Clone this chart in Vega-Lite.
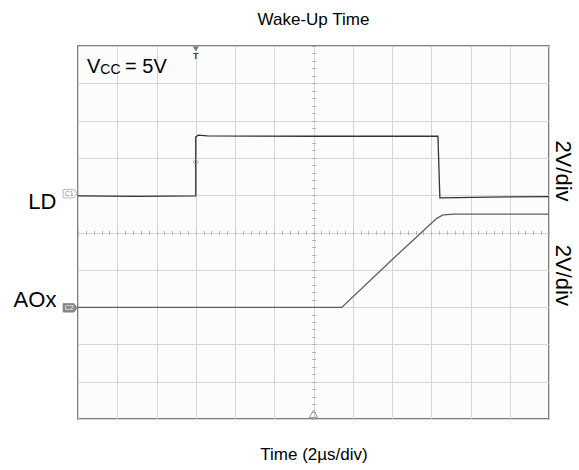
{
  "$schema": "https://vega.github.io/schema/vega-lite/v6.json",
  "width": 471,
  "height": 373,
  "autosize": {"type": "none"},
  "padding": {"left": 78, "top": 46, "right": 30, "bottom": 51},
  "background": "white",
  "config": {
    "font": "Liberation Sans",
    "view": {"stroke": "#555555", "strokeWidth": 1.5, "fill": "#fcfcfc"}
  },
  "title": {
    "text": "Wake-Up Time",
    "fontSize": 17,
    "fontWeight": "normal",
    "color": "#000000",
    "font": "Liberation Sans",
    "anchor": "middle",
    "offset": 17
  },
  "datasets": {
    "traces": [
      {"series": "LD", "i": 1, "t": 0.0, "v": 5.98},
      {"series": "LD", "i": 2, "t": 1.5, "v": 5.97},
      {"series": "LD", "i": 3, "t": 3.0, "v": 5.98},
      {"series": "LD", "i": 4, "t": 3.0, "v": 7.56},
      {"series": "LD", "i": 5, "t": 3.06, "v": 7.61},
      {"series": "LD", "i": 6, "t": 3.3, "v": 7.59},
      {"series": "LD", "i": 7, "t": 6.0, "v": 7.58},
      {"series": "LD", "i": 8, "t": 9.17, "v": 7.58},
      {"series": "LD", "i": 9, "t": 9.22, "v": 5.93},
      {"series": "LD", "i": 10, "t": 10.5, "v": 5.95},
      {"series": "LD", "i": 11, "t": 12.0, "v": 5.96},
      {"series": "AOx", "i": 1, "t": 0.0, "v": 2.99},
      {"series": "AOx", "i": 2, "t": 3.0, "v": 2.99},
      {"series": "AOx", "i": 3, "t": 6.72, "v": 2.99},
      {"series": "AOx", "i": 4, "t": 8.0, "v": 4.27},
      {"series": "AOx", "i": 5, "t": 9.14, "v": 5.38},
      {"series": "AOx", "i": 6, "t": 9.3, "v": 5.47},
      {"series": "AOx", "i": 7, "t": 9.6, "v": 5.49},
      {"series": "AOx", "i": 8, "t": 12.0, "v": 5.49}
    ],
    "marks": [
      {"kind": "trigger", "t": 3.0, "v": 6.89},
      {"kind": "trigtop", "t": 3.0, "v": 9.92},
      {"kind": "center", "t": 6.0, "v": 0.14},
      {"kind": "c1", "t": -0.2, "v": 6.04},
      {"kind": "c2", "t": -0.2, "v": 2.98}
    ],
    "labels": [
      {"kind": "side", "t": -0.55, "v": 5.82, "label": "LD"},
      {"kind": "side", "t": -0.55, "v": 3.18, "label": "AOx"},
      {"kind": "div", "t": 12.36, "v": 6.65, "label": "2V/div"},
      {"kind": "div", "t": 12.36, "v": 3.85, "label": "2V/div"},
      {"kind": "big", "t": 0.23, "v": 9.27, "label": "V"},
      {"kind": "sub", "t": 0.57, "v": 9.24, "label": "CC"},
      {"kind": "big", "t": 1.2, "v": 9.27, "label": "= 5V"},
      {"kind": "T", "t": 3.0, "v": 9.72, "label": "T"},
      {"kind": "c1", "t": -0.2, "v": 6.04, "label": "C1"},
      {"kind": "c2", "t": -0.2, "v": 2.98, "label": "C2"}
    ]
  },
  "resolve": {"axis": {"x": "independent", "y": "independent"}},
  "layer": [
    {
      "data": {"name": "traces"},
      "mark": {"type": "line", "strokeWidth": 1.3, "interpolate": "linear"},
      "encoding": {
        "x": {
          "field": "t", "type": "quantitative",
          "scale": {"domain": [0, 12], "nice": false, "zero": false},
          "axis": {
            "orient": "bottom",
            "values": [0, 1, 2, 3, 4, 5, 6, 7, 8, 9, 10, 11, 12],
            "grid": true, "gridColor": "#d6d6d6", "gridWidth": 1,
            "labels": false, "ticks": false, "domain": false,
            "title": "Time (2µs/div)",
            "titleFont": "Liberation Sans", "titleFontSize": 17,
            "titleFontWeight": "normal", "titleColor": "#000000",
            "titlePadding": 27
          }
        },
        "y": {
          "field": "v", "type": "quantitative",
          "scale": {"domain": [0, 10], "nice": false, "zero": false},
          "axis": {
            "orient": "left",
            "values": [0, 1, 2, 3, 4, 5, 6, 7, 8, 9, 10],
            "grid": true, "gridColor": "#d6d6d6", "gridWidth": 1,
            "labels": false, "ticks": false, "domain": false, "title": null
          }
        },
        "color": {
          "field": "series", "type": "nominal",
          "scale": {"domain": ["LD", "AOx"], "range": ["#333333", "#5e5e5e"]},
          "legend": null
        },
        "order": {"field": "i", "type": "quantitative"}
      }
    },
    {
      "data": {"name": "marks"},
      "transform": [{"filter": "datum.kind === 'trigger'"}],
      "mark": {"type": "point", "shape": "diamond", "filled": false, "stroke": "#8a8a8a", "strokeWidth": 1, "size": 28},
      "encoding": {
        "x": {
          "field": "t", "type": "quantitative",
          "scale": {"domain": [0, 12], "nice": false, "zero": false},
          "axis": {
            "orient": "top", "offset": -188.5, "tickCount": 60,
            "ticks": true, "tickSize": 4, "tickColor": "#b5b5b5", "tickWidth": 1,
            "labels": false, "domain": false, "grid": false, "title": null
          }
        },
        "y": {
          "field": "v", "type": "quantitative",
          "scale": {"domain": [0, 10], "nice": false, "zero": false},
          "axis": {
            "orient": "right", "offset": -237.5, "tickCount": 50,
            "ticks": true, "tickSize": 4, "tickColor": "#b5b5b5", "tickWidth": 1,
            "labels": false, "domain": false, "grid": false, "title": null
          }
        }
      }
    },
    {
      "data": {"name": "marks"},
      "transform": [{"filter": "datum.kind === 'trigtop'"}],
      "mark": {"type": "point", "shape": "triangle-down", "filled": true, "color": "#444444", "size": 36},
      "encoding": {
        "x": {"field": "t", "type": "quantitative", "axis": null},
        "y": {"field": "v", "type": "quantitative", "axis": null}
      }
    },
    {
      "data": {"name": "marks"},
      "transform": [{"filter": "datum.kind === 'center'"}],
      "mark": {"type": "point", "shape": "triangle-up", "filled": false, "stroke": "#777777", "strokeWidth": 1, "size": 70},
      "encoding": {
        "x": {"field": "t", "type": "quantitative", "axis": null},
        "y": {"field": "v", "type": "quantitative", "axis": null}
      }
    },
    {
      "data": {"name": "marks"},
      "transform": [{"filter": "datum.kind === 'c1'"}],
      "mark": {"type": "point", "shape": "M-1,-0.6L0.55,-0.6L1,0L0.55,0.6L-1,0.6Z", "filled": true, "fill": "#ffffff", "stroke": "#9a9a9a", "strokeWidth": 1, "size": 196},
      "encoding": {
        "x": {"field": "t", "type": "quantitative", "axis": null},
        "y": {"field": "v", "type": "quantitative", "axis": null}
      }
    },
    {
      "data": {"name": "marks"},
      "transform": [{"filter": "datum.kind === 'c2'"}],
      "mark": {"type": "point", "shape": "M-1,-0.6L0.55,-0.6L1,0L0.55,0.6L-1,0.6Z", "filled": true, "fill": "#555555", "stroke": "#555555", "strokeWidth": 1, "size": 196},
      "encoding": {
        "x": {"field": "t", "type": "quantitative", "axis": null},
        "y": {"field": "v", "type": "quantitative", "axis": null}
      }
    },
    {
      "data": {"name": "labels"},
      "transform": [{"filter": "datum.kind === 'c1'"}],
      "mark": {"type": "text", "font": "Liberation Sans", "fontSize": 7, "color": "#888888", "align": "center", "baseline": "middle", "dx": -1},
      "encoding": {
        "x": {"field": "t", "type": "quantitative", "axis": null},
        "y": {"field": "v", "type": "quantitative", "axis": null},
        "text": {"field": "label"}
      }
    },
    {
      "data": {"name": "labels"},
      "transform": [{"filter": "datum.kind === 'c2'"}],
      "mark": {"type": "text", "font": "Liberation Sans", "fontSize": 7, "color": "#ffffff", "align": "center", "baseline": "middle", "dx": -1},
      "encoding": {
        "x": {"field": "t", "type": "quantitative", "axis": null},
        "y": {"field": "v", "type": "quantitative", "axis": null},
        "text": {"field": "label"}
      }
    },
    {
      "data": {"name": "labels"},
      "transform": [{"filter": "datum.kind === 'side'"}],
      "mark": {"type": "text", "font": "Liberation Sans", "fontSize": 22, "color": "#000000", "align": "right", "baseline": "middle"},
      "encoding": {
        "x": {"field": "t", "type": "quantitative", "axis": null},
        "y": {"field": "v", "type": "quantitative", "axis": null},
        "text": {"field": "label"}
      }
    },
    {
      "data": {"name": "labels"},
      "transform": [{"filter": "datum.kind === 'div'"}],
      "mark": {"type": "text", "font": "Liberation Sans", "fontSize": 22, "color": "#000000", "align": "center", "baseline": "middle", "angle": 90},
      "encoding": {
        "x": {"field": "t", "type": "quantitative", "axis": null},
        "y": {"field": "v", "type": "quantitative", "axis": null},
        "text": {"field": "label"}
      }
    },
    {
      "data": {"name": "labels"},
      "transform": [{"filter": "datum.kind === 'big'"}],
      "mark": {"type": "text", "font": "Liberation Sans", "fontSize": 20, "color": "#000000", "align": "left", "baseline": "alphabetic"},
      "encoding": {
        "x": {"field": "t", "type": "quantitative", "axis": null},
        "y": {"field": "v", "type": "quantitative", "axis": null},
        "text": {"field": "label"}
      }
    },
    {
      "data": {"name": "labels"},
      "transform": [{"filter": "datum.kind === 'sub'"}],
      "mark": {"type": "text", "font": "Liberation Sans", "fontSize": 14, "color": "#000000", "align": "left", "baseline": "alphabetic"},
      "encoding": {
        "x": {"field": "t", "type": "quantitative", "axis": null},
        "y": {"field": "v", "type": "quantitative", "axis": null},
        "text": {"field": "label"}
      }
    },
    {
      "data": {"name": "labels"},
      "transform": [{"filter": "datum.kind === 'T'"}],
      "mark": {"type": "text", "font": "Liberation Sans", "fontSize": 9, "fontWeight": "bold", "color": "#444444", "align": "center", "baseline": "middle"},
      "encoding": {
        "x": {"field": "t", "type": "quantitative", "axis": null},
        "y": {"field": "v", "type": "quantitative", "axis": null},
        "text": {"field": "label"}
      }
    }
  ]
}
